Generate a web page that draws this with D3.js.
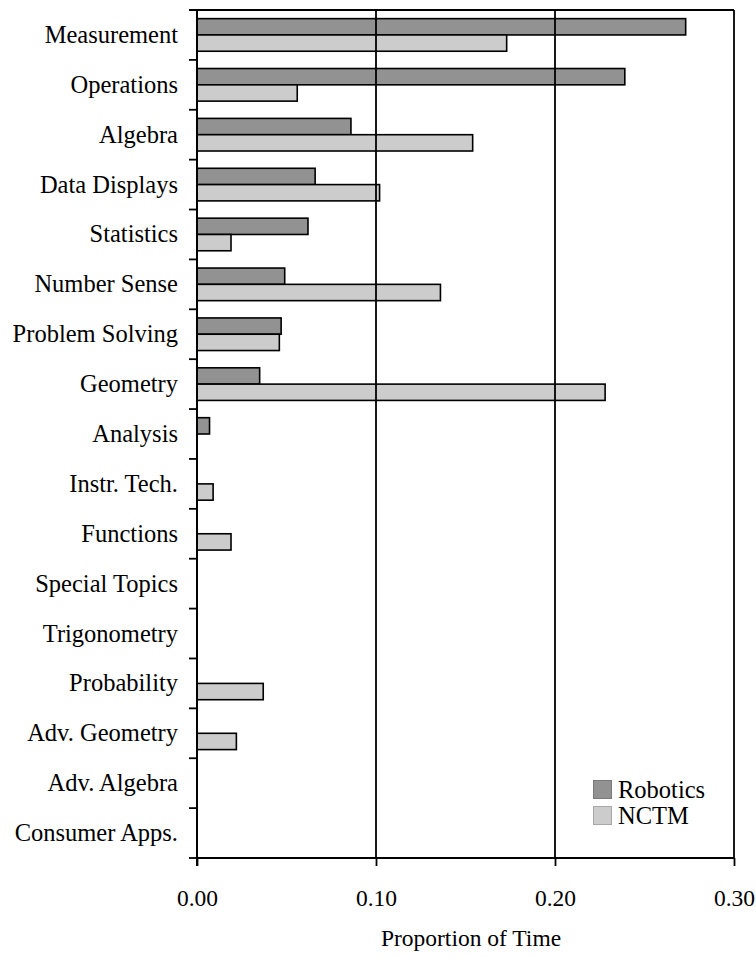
<!DOCTYPE html>
<html>
<head>
<meta charset="utf-8">
<script src="https://cdn.jsdelivr.net/npm/d3@7/dist/d3.min.js"></script>
<style>
  html, body { margin: 0; padding: 0; background: #fff; }
  svg { display: block; }
  text { font-family: "Liberation Serif", "Times New Roman", serif; fill: #000; }
</style>
</head>
<body>
<script>
const categories = ["Measurement", "Operations", "Algebra", "Data Displays", "Statistics",
  "Number Sense", "Problem Solving", "Geometry", "Analysis", "Instr. Tech.", "Functions",
  "Special Topics", "Trigonometry", "Probability", "Adv. Geometry", "Adv. Algebra", "Consumer Apps."];
const seriesNames = ["Robotics", "NCTM"];
const robotics = [0.273, 0.239, 0.086, 0.066, 0.062, 0.049, 0.047, 0.035, 0.007, 0, 0, 0, 0, 0, 0, 0, 0];
const nctm     = [0.173, 0.056, 0.154, 0.102, 0.019, 0.136, 0.046, 0.228, 0, 0.009, 0.019, 0, 0, 0.037, 0.022, 0, 0];
const xTicks = [0, 0.10, 0.20, 0.30];
const xTickLabels = ["0.00", "0.10", "0.20", "0.30"];
const axisTitle = "Proportion of Time";
const fills = ["#929292", "#cccccc"];
const legendStroke = ["#7a7a7a", "#a8a8a8"];

const W = 756, H = 958;
const m = { left: 197, right: 734, top: 10, bottom: 858 };

const svg = d3.select("body").append("svg").attr("width", W).attr("height", H);

const x = d3.scaleLinear().domain([0, 0.30]).range([m.left, m.right]);
const y = d3.scaleBand().domain(categories).range([m.top, m.bottom]).padding(0);
const ys = d3.scaleBand().domain(seriesNames).range([0, y.bandwidth()]).paddingInner(0).paddingOuter(0.53);

const data = [];
categories.forEach((c, i) => {
  data.push({ cat: c, s: "Robotics", v: robotics[i], k: 0 });
  data.push({ cat: c, s: "NCTM", v: nctm[i], k: 1 });
});

// bars
svg.append("g").selectAll("rect").data(data.filter(d => d.v > 0)).join("rect")
  .attr("x", x(0))
  .attr("y", d => y(d.cat) + ys(d.s))
  .attr("width", d => x(d.v) - x(0))
  .attr("height", ys.bandwidth())
  .attr("fill", d => fills[d.k])
  .attr("stroke", "#000")
  .attr("stroke-width", 1.6);

// gridlines / frame
svg.append("g").selectAll("line").data(xTicks.slice(1)).join("line")
  .attr("x1", d => x(d)).attr("x2", d => x(d))
  .attr("y1", m.top).attr("y2", m.bottom)
  .attr("stroke", "#000").attr("stroke-width", 1.8);
svg.append("line").attr("x1", m.left - 8).attr("x2", m.right)
  .attr("y1", m.top).attr("y2", m.top).attr("stroke", "#000").attr("stroke-width", 1.8);

// left axis
const yAxis = d3.axisLeft(y).tickSize(0).tickFormat("");
const gy = svg.append("g").attr("transform", `translate(${m.left},0)`).call(yAxis);
gy.select(".domain").remove();
svg.append("line").attr("x1", m.left).attr("x2", m.left).attr("y1", m.top).attr("y2", m.bottom + 8)
  .attr("stroke", "#000").attr("stroke-width", 2);
// left ticks at band boundaries
const boundaries = categories.map(c => y(c) + y.bandwidth());
svg.append("g").selectAll("line").data(boundaries).join("line")
  .attr("x1", m.left - 8).attr("x2", m.left)
  .attr("y1", d => d).attr("y2", d => d)
  .attr("stroke", "#000").attr("stroke-width", 1.8);

// category labels
svg.append("g").selectAll("text").data(categories).join("text")
  .attr("x", 178)
  .attr("y", d => y(d) + y.bandwidth() / 2 + 8)
  .attr("text-anchor", "end")
  .style("font-size", "24.5px")
  .text(d => d);

// bottom axis
const xAxis = d3.axisBottom(x).tickValues(xTicks).tickSize(8).tickFormat((d, i) => xTickLabels[i]);
const gx = svg.append("g").attr("transform", `translate(0,${m.bottom})`).call(xAxis);
gx.select(".domain").attr("stroke", "#000").attr("stroke-width", 2).attr("d", `M${m.left},0H${m.right}`);
gx.selectAll(".tick line").attr("stroke", "#000").attr("stroke-width", 1.8);
gx.selectAll(".tick text").attr("y", 48).attr("dy", 0)
  .style("font-size", "23.5px")
  .style("font-family", "'Liberation Serif', 'Times New Roman', serif");

svg.append("text").attr("x", 471).attr("y", 946)
  .attr("text-anchor", "middle").style("font-size", "23.5px").text(axisTitle);

// legend
const lg = svg.append("g").attr("transform", "translate(593,780)");
seriesNames.forEach((s, i) => {
  lg.append("rect").attr("x", 0.5).attr("y", i * 26 + 0.5).attr("width", 18).attr("height", 18)
    .attr("fill", fills[i]).attr("stroke", legendStroke[i]).attr("stroke-width", 1);
  lg.append("text").attr("x", 25).attr("y", i * 26 + 18).style("font-size", "24.5px").text(s);
});
</script>
</body>
</html>
